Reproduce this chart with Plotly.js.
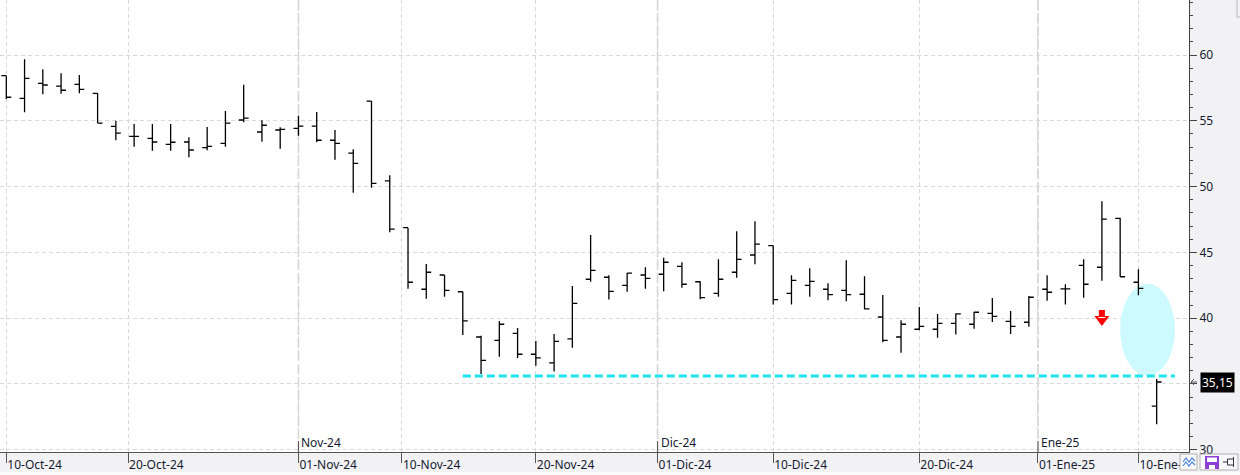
<!DOCTYPE html>
<html>
<head>
<meta charset="utf-8">
<script src="https://cdn.plot.ly/plotly-3.0.1.min.js"></script>
<style>html,body{margin:0;padding:0;background:#f2f2f4;}#chart{width:1240px;height:475px;}</style>
</head>
<body>
<div id="chart"></div>
<script>
// Trading days (daily OHLC bars)
const dates = [
 '2024-10-10','2024-10-11','2024-10-14','2024-10-15','2024-10-16','2024-10-17','2024-10-18',
 '2024-10-21','2024-10-22','2024-10-23','2024-10-24','2024-10-25','2024-10-28','2024-10-29',
 '2024-10-30','2024-10-31','2024-11-01','2024-11-04','2024-11-05','2024-11-06','2024-11-07',
 '2024-11-08','2024-11-11','2024-11-12','2024-11-13','2024-11-14','2024-11-15','2024-11-18',
 '2024-11-19','2024-11-20','2024-11-21','2024-11-22','2024-11-25','2024-11-26','2024-11-27',
 '2024-11-29','2024-12-02','2024-12-03','2024-12-04','2024-12-05','2024-12-06','2024-12-09',
 '2024-12-10','2024-12-11','2024-12-12','2024-12-13','2024-12-16','2024-12-17','2024-12-18',
 '2024-12-19','2024-12-20','2024-12-23','2024-12-24','2024-12-26','2024-12-27','2024-12-30',
 '2024-12-31','2025-01-02','2025-01-03','2025-01-06','2025-01-07','2025-01-08','2025-01-10',
 '2025-01-13'];
const openP = [58.43,56.71,57.85,57.64,57.77,57.09,54.58,53.82,53.67,53.21,53.39,52.96,53.29,55.06,
 54.15,54.30,54.43,54.60,53.52,52.55,56.50,50.43,46.88,42.20,43.28,42.01,38.57,38.32,38.85,37.26,
 36.60,38.42,42.96,43.11,42.50,43.28,43.34,43.94,42.77,41.89,43.49,44.80,45.51,41.89,42.50,42.20,
 42.12,41.82,40.09,38.57,39.16,39.16,39.61,39.54,40.37,39.76,39.69,42.20,42.22,44.02,43.87,47.59,
 42.73,33.31];
const highP = [58.43,59.67,58.91,58.61,58.48,57.09,55.01,54.76,54.76,54.76,53.75,54.53,55.74,57.74,
 55.04,54.51,55.39,55.67,54.30,52.83,56.50,50.86,46.88,44.12,43.28,42.01,38.67,39.79,39.26,38.27,
 38.80,42.45,46.32,43.26,43.43,43.87,44.60,44.25,42.80,44.47,46.60,47.36,45.51,43.26,43.79,42.65,
 44.40,43.18,41.76,39.84,40.85,40.32,40.37,40.49,41.53,40.55,41.69,43.26,42.58,44.47,48.88,47.64,
 43.72,35.38];
const lowP = [56.66,55.65,57.01,57.06,57.09,54.83,53.52,53.03,52.73,52.73,52.23,52.76,53.03,54.89,
 53.41,52.88,53.87,53.37,52.04,49.54,49.92,46.53,42.24,41.48,41.63,38.72,35.76,37.07,36.98,36.39,
 35.94,37.76,42.77,41.41,42.01,42.24,42.04,42.32,41.44,41.63,43.08,44.10,41.03,41.03,41.63,41.36,
 41.28,40.68,38.17,37.38,39.08,38.52,38.75,39.20,39.71,38.80,39.35,41.33,41.03,41.56,42.85,43.15,
 41.74,31.94];
const closeP = [56.79,58.23,57.72,57.32,57.39,54.83,54.07,53.82,53.39,53.37,52.78,53.06,54.83,55.21,
 54.66,54.35,54.60,53.52,53.29,51.77,50.25,46.76,42.73,43.49,42.12,39.79,36.80,39.54,37.26,36.98,
 38.24,41.13,43.64,42.04,43.43,43.03,44.25,42.58,41.56,42.96,44.47,45.62,41.41,42.88,42.80,41.79,
 41.79,40.70,38.32,39.54,39.38,39.61,40.32,40.45,40.14,39.38,41.59,41.97,42.22,42.58,47.52,43.15,
 42.27,35.15];

// Axis ticks
const tickDates = ['2024-10-10','2024-10-20','2024-11-01','2024-11-10','2024-11-20','2024-12-01',
 '2024-12-10','2024-12-20','2025-01-01','2025-01-10'];
const tickLabels = ['10-Oct-24','20-Oct-24','01-Nov-24','10-Nov-24','20-Nov-24','01-Dic-24',
 '10-Dic-24','20-Dic-24','01-Ene-25','10-Ene-25'];
const monthDates = ['2024-11-01','2024-12-01','2025-01-01'];
const monthLabels = ['Nov-24','Dic-24','Ene-25'];
const yTicks = [30,35,40,45,50,55,60];

// Drawn annotations on the chart
const supportLevel = 35.6;
const supportFrom = '2024-11-14';
const supportTo = '2025-01-16';
const zoneFrom = '2025-01-08', zoneTo = '2025-01-16', zoneLow = 35.63, zoneHigh = 42.61;
const arrowDate = '2025-01-07', arrowLevel = 40.62;

const ms = d => Date.parse(d + 'T00:00:00Z');
const dms = dates.map(ms);
function pos(d) {
  const t = ms(d);
  if (t <= dms[0]) return (t - dms[0]) / 86400000;
  for (let i = 0; i < dms.length - 1; i++) {
    if (t >= dms[i] && t <= dms[i + 1]) return i + (t - dms[i]) / (dms[i + 1] - dms[i]);
  }
  return dms.length - 1 + (t - dms[dms.length - 1]) / (3 * 86400000);
}
const xIdx = dates.map((d, i) => i);
const tickPos = tickDates.map(pos);
const monthPos = monthDates.map(pos);
const lastClose = closeP[closeP.length - 1];

const FONT = 'Segoe UI, "Noto Sans", "Liberation Sans", sans-serif';
const TXT = '#141a30';
// plot-frame helpers (figure pixels -> paper coords) for the toolbar decoration
const PW = 1189, PH = 452;
const px = x => x / PW, py = y => (PH - y) / PH;
const pth = pts => 'M ' + pts.map(p => px(p[0]) + ',' + py(p[1])).join(' L ');

const trace = {
  type: 'ohlc', x: xIdx, open: openP, high: highP, low: lowP, close: closeP,
  increasing: {line: {color: '#000000', width: 1.3}},
  decreasing: {line: {color: '#000000', width: 1.3}},
  tickwidth: 0.27, hoverinfo: 'skip', showlegend: false
};

const shapes = [];
monthPos.forEach(p => {
  shapes.push({type: 'line', xref: 'x', yref: 'paper', x0: p, x1: p, y0: 0, y1: 1,
    line: {color: '#d2d2d2', width: 1.6, dash: '10px,3px'}, layer: 'below'});
  shapes.push({type: 'line', xref: 'x', yref: 'paper', x0: p, x1: p, y0: 0, y1: 11/452,
    line: {color: '#555555', width: 1}, layer: 'above'});
});
shapes.push({type: 'circle', xref: 'x', yref: 'y', x0: pos(zoneFrom), x1: pos(zoneTo),
  y0: zoneLow, y1: zoneHigh, fillcolor: 'rgb(204,250,254)', line: {width: 0}, layer: 'between'});
shapes.push({type: 'line', xref: 'x', yref: 'y', x0: pos(supportFrom), x1: pos(supportTo),
  y0: supportLevel, y1: supportLevel, line: {color: '#1ee4ec', width: 3, dash: '8px,4px'}, layer: 'above'});
shapes.push({type: 'path', xref: 'x', yref: 'y', xsizemode: 'pixel', ysizemode: 'pixel',
  xanchor: pos(arrowDate), yanchor: arrowLevel,
  path: 'M-3,0 L3,0 L3,-6 L7.5,-6 L0,-16 L-7.5,-6 L-3,-6 Z',
  fillcolor: '#ff0000', line: {width: 0}, layer: 'above'});
shapes.push({type: 'line', xref: 'x', yref: 'y', xsizemode: 'pixel', ysizemode: 'pixel',
  xanchor: pos(arrowDate), yanchor: arrowLevel, x0: -3.5, x1: 3.5, y0: -7.5, y1: -7.5,
  line: {color: '#ffffff', width: 1}, layer: 'above'});
// bottom light band
shapes.push({type: 'rect', xref: 'paper', yref: 'paper', x0: 0, x1: px(1240), y0: py(472), y1: py(475),
  fillcolor: '#fbfbfb', line: {width: 0}, layer: 'below'});
// top-right small frame
shapes.push({type: 'path', xref: 'paper', yref: 'paper', path: pth([[1237, 0], [1237, 17], [1241, 17]]),
  line: {color: '#b8b8b8', width: 1}, layer: 'above'});
// price-label pointer
shapes.push({type: 'path', xref: 'paper', yref: 'y', ysizemode: 'pixel', yanchor: lastClose,
  path: 'M ' + px(1191) + ',0 L ' + px(1197) + ',0 M ' + px(1194) + ',3 L ' + px(1191) + ',0 L ' + px(1194) + ',-3',
  line: {color: '#555555', width: 1}, layer: 'above'});
// toolbar (bottom right)
const tb = {type: 'rect', xref: 'paper', yref: 'paper', fillcolor: '#f8f8fa', line: {color: '#b0b0b0', width: 1}, layer: 'above'};
shapes.push(Object.assign({}, tb, {x0: px(1180), x1: px(1197), y0: py(454), y1: py(470)}));
shapes.push(Object.assign({}, tb, {x0: px(1200), x1: px(1238), y0: py(454), y1: py(470)}));
shapes.push({type: 'path', xref: 'paper', yref: 'paper', layer: 'above', line: {color: '#4a86d8', width: 1.2},
  path: pth([[1183, 462], [1186, 458], [1189, 462], [1192, 458], [1195, 461]])});
shapes.push({type: 'path', xref: 'paper', yref: 'paper', layer: 'above', line: {color: '#4a86d8', width: 1.2},
  path: pth([[1183, 466], [1186, 462], [1189, 466], [1192, 462], [1195, 465]])});
shapes.push({type: 'rect', xref: 'paper', yref: 'paper', layer: 'above', fillcolor: '#8b3fd4', line: {width: 0},
  x0: px(1205), x1: px(1219), y0: py(456), y1: py(469)});
shapes.push({type: 'rect', xref: 'paper', yref: 'paper', layer: 'above', fillcolor: '#ffffff', line: {width: 0},
  x0: px(1207), x1: px(1217), y0: py(457.5), y1: py(462)});
shapes.push({type: 'rect', xref: 'paper', yref: 'paper', layer: 'above', fillcolor: '#ffffff', line: {width: 0},
  x0: px(1209), x1: px(1215), y0: py(465), y1: py(469)});
shapes.push({type: 'path', xref: 'paper', yref: 'paper', layer: 'above', line: {color: '#333333', width: 1},
  path: pth([[1223, 462], [1227, 462]]) + ' ' + pth([[1233, 459], [1227.5, 459], [1227.5, 465], [1233, 465]]) + ' ' + pth([[1233.5, 457], [1233.5, 467]])});

const annotations = [];
monthPos.forEach((p, i) => annotations.push({
  x: p, xref: 'x', y: 0, yref: 'paper', yanchor: 'bottom', xanchor: 'left', xshift: 1, yshift: -1,
  text: monthLabels[i], showarrow: false, font: {family: FONT, size: 12, color: TXT}
}));
// last price label
annotations.push({x: px(1200), xref: 'paper', y: lastClose, yref: 'y', xanchor: 'left', yanchor: 'middle',
  text: lastClose.toFixed(2).replace('.', ','), showarrow: false, bgcolor: '#000000', borderpad: 1,
  font: {family: FONT, size: 12, color: '#ffffff'}});

const layout = {
  width: 1240, height: 475,
  margin: {l: 0, r: 51, t: 0, b: 23, pad: 0},
  paper_bgcolor: '#f2f2f4', plot_bgcolor: '#ffffff',
  showlegend: false,
  xaxis: {
    type: 'linear', range: [-0.345, 64.77], fixedrange: true,
    rangeslider: {visible: false},
    tickmode: 'array', tickvals: tickPos, ticktext: tickLabels,
    ticklabelposition: 'outside right', ticklabelstandoff: 2,
    tickfont: {family: FONT, size: 12, color: TXT},
    ticks: 'outside', ticklen: 10, tickwidth: 1, tickcolor: '#555555',
    showgrid: true, gridcolor: '#dadada', griddash: '4px,3px', gridwidth: 1,
    showline: true, linecolor: '#555555', linewidth: 1, zeroline: false
  },
  yaxis: {
    side: 'right', range: [29.83, 64.18], fixedrange: true,
    tickmode: 'array', tickvals: yTicks, ticktext: yTicks.map(v => (v === 35 ? '' : String(v))),
    ticks: 'outside', ticklen: 7, tickwidth: 1, tickcolor: '#444444',
    minor: {dtick: 1, tick0: 0, ticks: 'outside', ticklen: 3, tickcolor: '#444444', showgrid: false},
    showgrid: true, gridcolor: '#dadada', griddash: '4px,3px', gridwidth: 1,
    showline: true, linecolor: '#444444', linewidth: 1, zeroline: false,
    tickfont: {family: FONT, size: 12, color: TXT}
  },
  shapes: shapes,
  annotations: annotations
};

Plotly.newPlot('chart', [trace], layout, {displayModeBar: false, staticPlot: true});
</script>
</body>
</html>
